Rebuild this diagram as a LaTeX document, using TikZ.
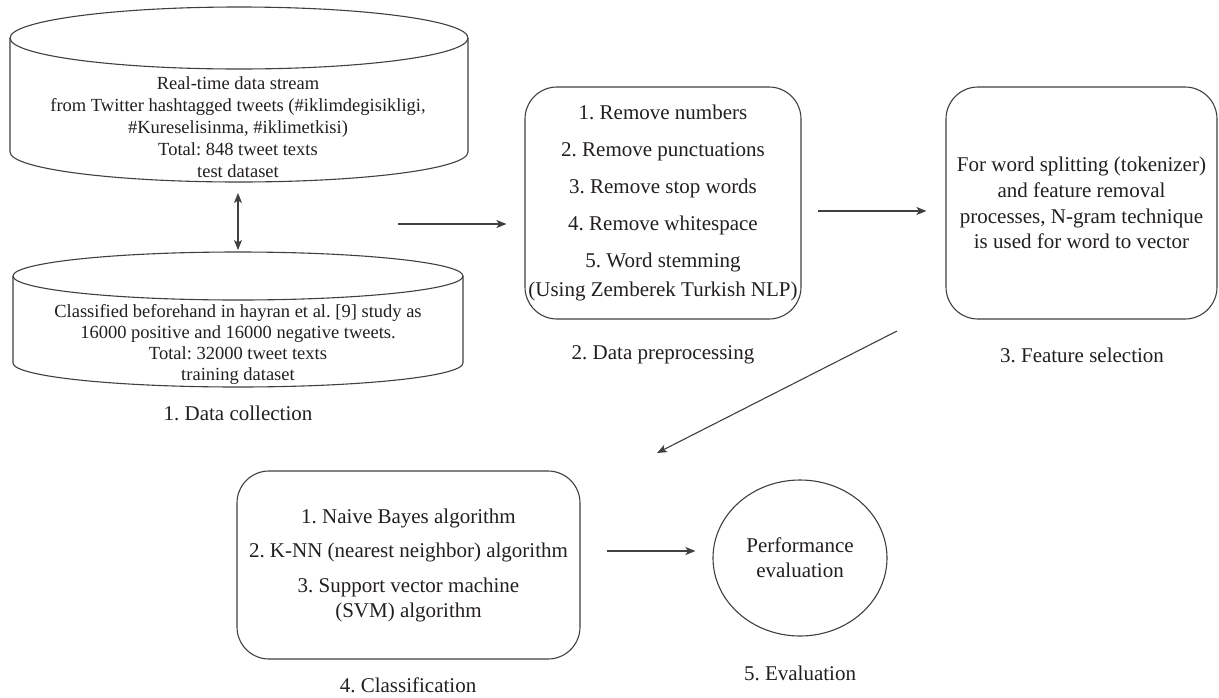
\documentclass[tikz,border=0pt]{standalone}
\usepackage{fontspec}
\setmainfont{Liberation Serif}
\usetikzlibrary{arrows.meta,shapes.geometric}
\definecolor{lc}{HTML}{404040}
\definecolor{tc}{HTML}{231F20}
\frenchspacing
\tikzset{
  ln/.style={draw=lc, line width=1.1pt},
  arr/.style={draw=lc, line width=1.1pt, -{Stealth[length=10pt,width=8pt,inset=2.5pt]}},
  dblarr/.style={draw=lc, line width=1.1pt, {Stealth[length=10pt,width=8pt,inset=2.5pt]}-{Stealth[length=10pt,width=8pt,inset=2.5pt]}},
  box/.style={draw=lc, line width=1.1pt, rounded corners=32pt, align=center, inner sep=0pt, text=tc},
  cyltext/.style={align=center, font=\fontsize{18.5}{22}\selectfont, text=tc},
  lbl/.style={font=\fontsize{21}{25}\selectfont, text=tc},
}
\begin{document}
\frenchspacing
\begin{tikzpicture}[x=1pt,y=-1pt]
\fill[white] (0,0) rectangle (1219,697);
\useasboundingbox (0,0) rectangle (1219,697);

% ---- 1. Data collection: two cylinders
\draw[ln] (239,38) ellipse [x radius=229, y radius=31];
\draw[ln] (10,38) -- (10,152) arc[start angle=180, end angle=0, x radius=229, y radius=30] -- (468,38);
\node[cyltext] (dc1) at (238,127) {Real-time data stream\\ from Twitter hashtagged tweets (\#iklimdegisikligi,\\ \#Kureselisinma, \#iklimetkisi)\\ Total: 848 tweet texts\\ test dataset};

\draw[ln] (238,276) ellipse [x radius=225, y radius=24];
\draw[ln] (13,276) -- (13,363) arc[start angle=180, end angle=0, x radius=225, y radius=24] -- (463,276);
\node[cyltext, font=\fontsize{18.5}{21}\selectfont] (dc2) at (238,344) {Classified beforehand in hayran et al. [9] study as\\ 16000 positive and 16000 negative tweets.\\ Total: 32000 tweet texts\\ training dataset};

\coordinate (c1bot) at (238,182);
\coordinate (c2top) at (238,252);
\draw[dblarr, shorten <=11pt, shorten >=2pt] (c1bot) -- (c2top);

\node[lbl] (lab1) at (238,413) {1. Data collection};

% ---- 2. Data preprocessing
\node[box, minimum width=276pt, minimum height=232pt, font=\fontsize{21}{22}\selectfont] (pre) at (663,203)
  {1. Remove numbers\\[15pt] 2. Remove punctuations\\[15pt] 3. Remove stop words\\[15pt] 4. Remove whitespace\\[15pt] 5. Word stemming\\[7pt] (Using Zemberek Turkish NLP)};
\node[lbl] (lab2) at (663,355) {2. Data preprocessing};

% ---- 3. Feature selection
\node[box, minimum width=271pt, minimum height=232pt, font=\fontsize{21}{25.7}\selectfont] (feat) at (1081.5,203)
  {For word splitting (tokenizer)\\ and feature removal\\ processes, N-gram technique\\ is used for word to vector};
\node[lbl] (lab3) at (1082,355) {3. Feature selection};

% ---- 4. Classification
\node[box, minimum width=343pt, minimum height=188pt, font=\fontsize{21}{25}\selectfont] (cls) at (408.5,565)
  {1. Naive Bayes algorithm\\[9pt] 2. K-NN (nearest neighbor) algorithm\\[10pt] 3. Support vector machine\\ (SVM) algorithm};
\node[lbl] (lab4) at (408,685) {4. Classification};

% ---- 5. Evaluation
\node[ellipse, draw=lc, line width=1.1pt, minimum width=174pt, minimum height=156pt, inner sep=0pt, align=center,
      font=\fontsize{21}{25}\selectfont, text=tc] (ev) at (800,558) {Performance\\ evaluation};
\node[lbl] (lab5) at (800,673) {5. Evaluation};

% ---- connectors
\coordinate (a1s) at (398,224);
\draw[arr, shorten >=18pt] (a1s) -- (a1s -| pre.west);
\draw[arr, shorten <=16pt, shorten >=19pt] (pre.east |- 0,211) -- (feat.west |- 0,211);
\coordinate (d1s) at (897,331);
\coordinate (d1e) at (657,453);
\draw[arr] (d1s) -- (d1e);
\draw[arr, shorten <=26pt, shorten >=17pt] (cls.east |- 0,551) -- (ev.west |- 0,551);
\end{tikzpicture}
\end{document}
